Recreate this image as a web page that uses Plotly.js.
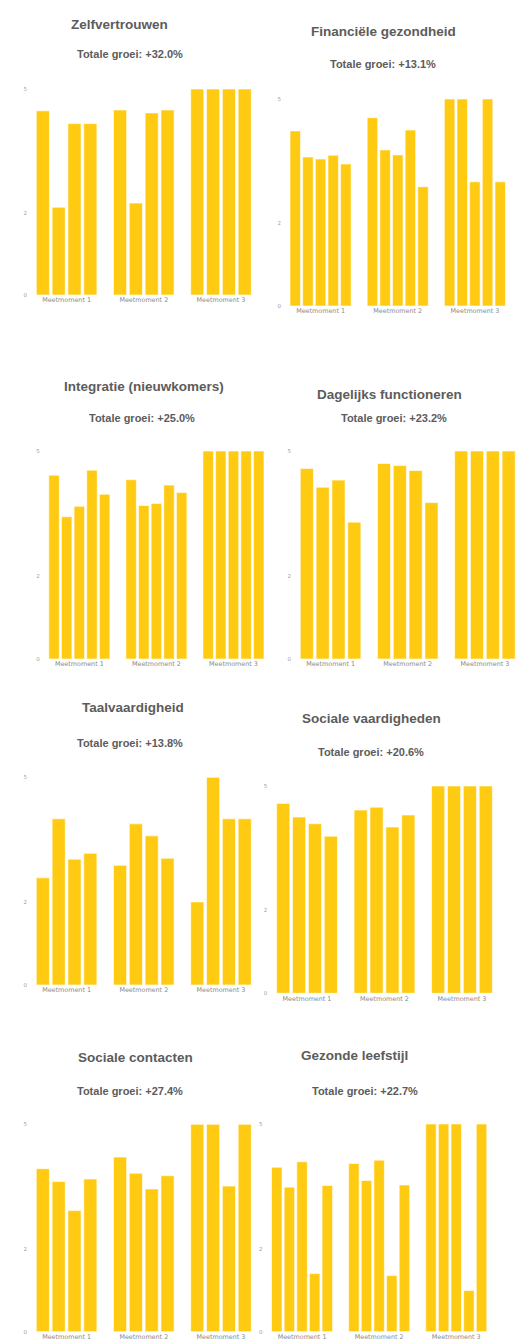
<!DOCTYPE html>
<html>
<head>
<meta charset="utf-8">
<script src="https://cdn.plot.ly/plotly-3.0.1.min.js"></script>
<style>
  html, body { margin: 0; padding: 0; background: #ffffff; }
  #chart { width: 528px; height: 1341px; }
</style>
</head>
<body>
<div id="chart"></div>
<script>
// ---------- DATA ----------
const categories = ['Meetmoment 1', 'Meetmoment 2', 'Meetmoment 3'];
const yTickVals = [0, 2, 5];
const yTickText = ['0', '2', '5'];

const titles = [
  'Zelfvertrouwen', 'Financiële gezondheid',
  'Integratie (nieuwkomers)', 'Dagelijks functioneren',
  'Taalvaardigheid', 'Sociale vaardigheden',
  'Sociale contacten', 'Gezonde leefstijl'
];
const growth = ['+32.0%', '+13.1%', '+25.0%', '+23.2%', '+13.8%', '+20.6%', '+27.4%', '+22.7%'];

// each inner array = one bar series: values at Meetmoment 1, 2, 3
const zelfvertrouwen = [
  [4.47, 4.49, 5], [2.13, 2.23, 5], [4.16, 4.42, 5], [4.16, 4.49, 5]
];
const financieleGezondheid = [
  [4.23, 4.55, 5], [3.60, 3.77, 5], [3.55, 3.65, 3.0], [3.64, 4.25, 5], [3.43, 2.88, 3.0]
];
const integratie = [
  [4.42, 4.31, 5], [3.42, 3.69, 5], [3.67, 3.74, 5], [4.54, 4.18, 5], [3.96, 4.0, 5]
];
const dagelijksFunctioneren = [
  [4.58, 4.70, 5], [4.13, 4.65, 5], [4.30, 4.53, 5], [3.29, 3.76, 5]
];
const taalvaardigheid = [
  [2.58, 2.88, 2.0], [4.0, 3.88, 5], [3.03, 3.59, 4.0], [3.17, 3.05, 4.0]
];
const socialeVaardigheden = [
  [4.58, 4.42, 5], [4.25, 4.49, 5], [4.09, 4.01, 5], [3.79, 4.30, 5]
];
const socialeContacten = [
  [3.93, 4.21, 5], [3.62, 3.82, 5], [2.92, 3.44, 3.51], [3.68, 3.76, 5]
];
const gezondeLeefstijl = [
  [3.96, 4.05, 5], [3.48, 3.64, 5], [4.09, 4.13, 5], [1.40, 1.35, 0.99], [3.52, 3.53, 5]
];

const panelData = [zelfvertrouwen, financieleGezondheid, integratie, dagelijksFunctioneren,
                   taalvaardigheid, socialeVaardigheden, socialeContacten, gezondeLeefstijl];

// ---------- GEOMETRY (px) ----------
const W = 528, H = 1341;
// [left, right, top(y=5), bottom(y=0), titleX, titleY, subX, subY]
const geom = [
  [28, 259.6, 89, 295, 119, 24, 130, 54],
  [282, 513.5, 99, 306, 383, 32, 383, 64],
  [40.8, 272, 451, 659, 144, 386, 142, 418],
  [292, 523.5, 451, 659, 389, 394, 394, 418],
  [28, 259.6, 777.3, 985, 133, 707, 130, 743],
  [268.3, 500.7, 786, 993.3, 371, 718, 371, 752],
  [28, 259.6, 1124.3, 1331.7, 135, 1057, 130, 1091],
  [263.5, 494.8, 1124, 1331.7, 354, 1055, 365, 1091]
];

const barColor = '#FFCB12';
const traces = [];
const layout = {
  width: W, height: H,
  margin: {l: 0, r: 0, t: 0, b: 0},
  paper_bgcolor: '#ffffff', plot_bgcolor: '#ffffff',
  barmode: 'group', bargap: 0.18, bargroupgap: 0.17,
  showlegend: false,
  annotations: []
};
const px = v => v / W;
const py = v => 1 - v / H;

panelData.forEach((series, i) => {
  const k = i + 1;
  const sfx = k === 1 ? '' : String(k);
  const g = geom[i];
  series.forEach(vals => {
    traces.push({
      type: 'bar', x: categories, y: vals,
      xaxis: 'x' + sfx, yaxis: 'y' + sfx,
      marker: {color: barColor, line: {color: '#ffffff', width: 0.6}},
      hoverinfo: 'skip'
    });
  });
  layout['xaxis' + sfx] = {
    domain: [px(g[0]), px(g[1])], anchor: 'y' + sfx,
    type: 'category', range: [-0.5, 2.5],
    showgrid: false, zeroline: false, showline: false, ticks: '',
    tickfont: {family: 'DejaVu Sans, sans-serif', size: 6.4, color: '#8a8a8a'}
  };
  layout['yaxis' + sfx] = {
    domain: [py(g[3]), py(g[2])], anchor: 'x' + sfx,
    range: [0, 5], tickvals: yTickVals, ticktext: yTickText,
    showgrid: false, zeroline: false, showline: false, ticks: '',
    tickfont: {family: 'DejaVu Sans, sans-serif', size: 5.5, color: '#a0a0a0'}
  };
  layout.annotations.push({
    xref: 'paper', yref: 'paper', x: px(g[4]), y: py(g[5]),
    xanchor: 'center', yanchor: 'middle', showarrow: false,
    text: titles[i],
    font: {family: 'Liberation Sans, Arial, sans-serif', size: 13.5, color: '#5c5c5c', weight: 'bold'}
  });
  layout.annotations.push({
    xref: 'paper', yref: 'paper', x: px(g[6]), y: py(g[7]),
    xanchor: 'center', yanchor: 'middle', showarrow: false,
    text: 'Totale groei: ' + growth[i],
    font: {family: 'Liberation Sans, Arial, sans-serif', size: 11, color: '#5c5c5c', weight: 'bold'}
  });
});

Plotly.newPlot('chart', traces, layout, {staticPlot: true, displayModeBar: false});
</script>
</body>
</html>
